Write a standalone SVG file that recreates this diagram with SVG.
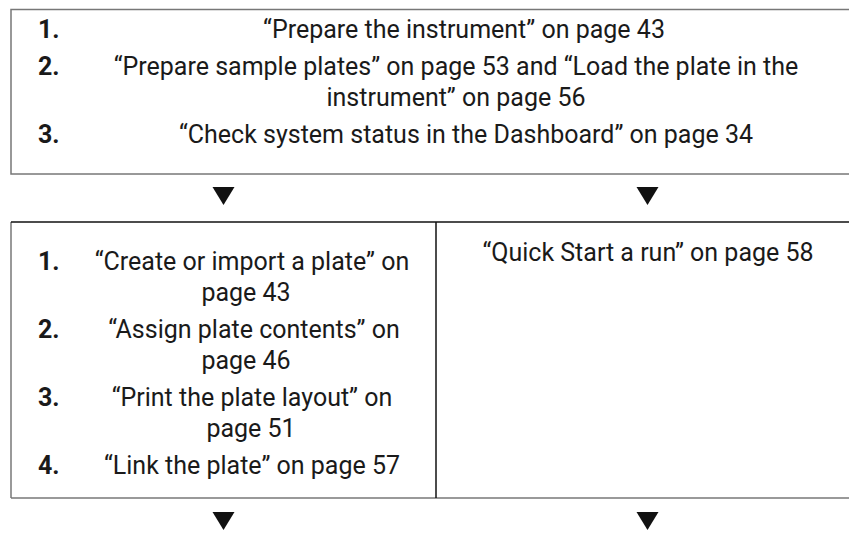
<svg xmlns="http://www.w3.org/2000/svg" width="849" height="540" viewBox="0 0 849 540">
  <style>
    .t { font-family: Roboto, "Liberation Sans", Arial, sans-serif; font-size: 25px; fill: #1a1a1a; }
    .c { text-anchor: middle; }
    .n { font-weight: bold; }
    .frame { fill: none; stroke: #777; stroke-width: 1.5; }
    .dark { stroke: #111; stroke-width: 1.5; fill: none; }
    .arrow { fill: #111; }
  </style>
  <rect width="849" height="540" fill="#fff"/>

  <!-- Step block: prepare -->
  <g id="prepare">
    <rect class="frame" x="11" y="9.5" width="842" height="164.5"/>
    <text class="t n" x="38" y="38">1.</text>
    <text class="t c" x="464" y="38">“Prepare the instrument” on page 43</text>
    <text class="t n" x="38" y="75">2.</text>
    <text class="t c" x="456" y="75">“Prepare sample plates” on page 53 and “Load the plate in the</text>
    <text class="t c" x="456" y="106">instrument” on page 56</text>
    <text class="t n" x="38" y="143">3.</text>
    <text class="t c" x="466" y="143">“Check system status in the Dashboard” on page 34</text>
  </g>

  <!-- Step block: plate setup (left column) -->
  <g id="plate-setup">
    <line class="frame" x1="11" y1="222" x2="11" y2="498"/>
    <line class="frame" x1="11" y1="498" x2="849" y2="498"/>
    <line class="dark" x1="11" y1="222" x2="849" y2="222"/>
    <text class="t n" x="38" y="270">1.</text>
    <text class="t c" x="252" y="270">“Create or import a plate” on</text>
    <text class="t c" x="246" y="301">page 43</text>
    <text class="t n" x="38" y="338">2.</text>
    <text class="t c" x="254" y="338">“Assign plate contents” on</text>
    <text class="t c" x="246" y="369">page 46</text>
    <text class="t n" x="38" y="406">3.</text>
    <text class="t c" x="252" y="406">“Print the plate layout” on</text>
    <text class="t c" x="251" y="437">page 51</text>
    <text class="t n" x="38" y="474">4.</text>
    <text class="t c" x="252" y="474">“Link the plate” on page 57</text>
  </g>

  <!-- Step block: quick start (right column) -->
  <g id="quick-start">
    <line class="dark" x1="436" y1="222" x2="436" y2="498"/>
    <text class="t c" x="648" y="261">“Quick Start a run” on page 58</text>
  </g>

  <!-- Flow arrows -->
  <g id="connectors">
    <path class="arrow" d="M212.5 187 L234.5 187 L223.5 205 Z"/>
    <path class="arrow" d="M636.5 187 L658.5 187 L647.5 205 Z"/>
    <path class="arrow" d="M212.5 512 L234.5 512 L223.5 530 Z"/>
    <path class="arrow" d="M636.5 512 L658.5 512 L647.5 530 Z"/>
  </g>
</svg>
